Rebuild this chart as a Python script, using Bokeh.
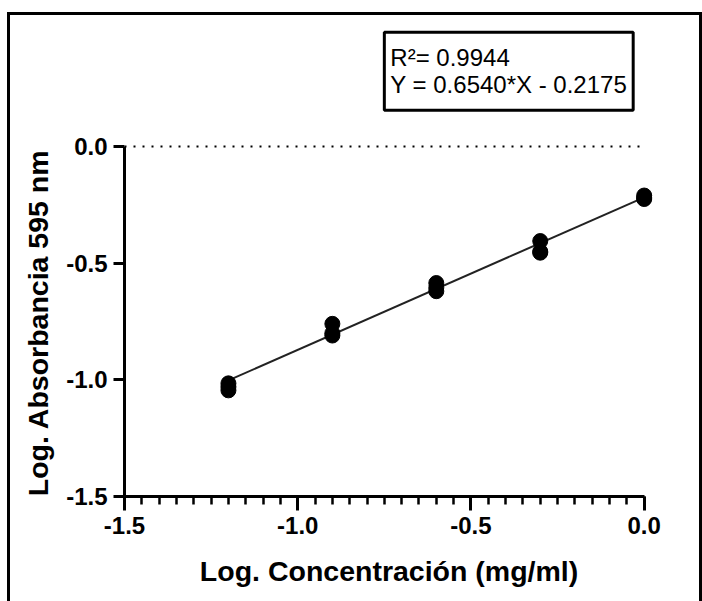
from bokeh.plotting import figure
from bokeh.models import Range1d, FixedTicker, Label
from bokeh.embed import file_html
from bokeh.resources import INLINE

# ---- data ----
x_levels = [-1.2, -0.9, -0.6, -0.3, 0.0]
rep1 = [-1.015, -0.760, -0.585, -0.405, -0.210]
rep2 = [-1.030, -0.800, -0.605, -0.450, -0.220]
rep3 = [-1.045, -0.810, -0.620, -0.455, -0.225]
fit_slope = 0.6540
fit_intercept = -0.2175
r_squared = 0.9944
x_ticks = [-1.5, -1.0, -0.5, 0.0]
x_tick_labels = ["-1.5", "-1.0", "-0.5", "0.0"]
y_ticks = [-1.5, -1.0, -0.5, 0.0]
y_tick_labels = ["-1.5", "-1.0", "-0.5", "0.0"]
x_title = "Log. Concentración (mg/ml)"
y_title = "Log. Absorbancia 595 nm"

FONT = "Liberation Sans"
NBSP = "\u00a0"

p = figure(width=702, height=601, output_backend="svg", toolbar_location=None,
           x_range=Range1d(-1.5, 0.05), y_range=Range1d(-1.5, 0.566),
           min_border_left=124, min_border_right=41,
           min_border_top=14, min_border_bottom=105)
p.grid.grid_line_color = None
p.outline_line_color = None
p.background_fill_color = "white"
p.border_fill_color = "white"
p.stylesheets = [
    ":host { position: relative; }",
    ":host::after { content: ''; position: absolute; left: 7px; top: 12px; "
    "width: 689px; height: 595px; border: 3px solid black; border-bottom: none; "
    "pointer-events: none; box-sizing: content-box; }",
]

# dotted reference line at y = 0
p.line([x_ticks[0], x_ticks[-1]], [0, 0], line_color="black", line_width=2,
       line_dash="2 7")

# regression line
fx = [x_levels[0], x_levels[-1]]
fy = [fit_slope * v + fit_intercept for v in fx]
p.line(fx, fy, line_color="#222222", line_width=2)

# points
for rep in (rep1, rep2, rep3):
    p.scatter(x_levels, rep, size=15, color="black")

# axes
minor = [x_ticks[0] + 0.05 * i for i in range(31)]
xa = p.xaxis[0]
xa.ticker = FixedTicker(ticks=x_ticks, minor_ticks=minor)
xa.major_label_overrides = {t: l for t, l in zip(x_ticks, x_tick_labels)}
xa.bounds = (x_ticks[0], x_ticks[-1])
xa.axis_line_width = 3
xa.major_tick_line_width = 3
xa.minor_tick_line_width = 2.5
xa.major_tick_in = 0
xa.major_tick_out = 14
xa.minor_tick_in = 0
xa.minor_tick_out = 8
xa.major_label_text_font = FONT
xa.major_label_text_font_style = "bold"
xa.major_label_text_font_size = "24px"
xa.major_label_text_color = "black"
xa.major_label_standoff = 6
# trailing no-break space nudges the centred title to the axis centre
xa.axis_label = x_title + NBSP
xa.axis_label_text_font = FONT
xa.axis_label_text_font_style = "bold"
xa.axis_label_text_font_size = "28.5px"
xa.axis_label_text_color = "black"
xa.axis_label_standoff = 18

ya = p.yaxis[0]
ya.ticker = FixedTicker(ticks=y_ticks)
ya.major_label_overrides = {t: l for t, l in zip(y_ticks, y_tick_labels)}
ya.bounds = (y_ticks[0], y_ticks[-1])
ya.axis_line_width = 3
ya.major_tick_line_width = 3
ya.minor_tick_line_color = None
ya.major_tick_in = 0
ya.major_tick_out = 11
ya.major_label_text_font = FONT
ya.major_label_text_font_style = "bold"
ya.major_label_text_font_size = "24px"
ya.major_label_text_color = "black"
ya.major_label_standoff = 6
# frame is taller than the axis; trailing no-break spaces centre the title on the axis
ya.axis_label = y_title + NBSP * 17
ya.axis_label_text_font = FONT
ya.axis_label_text_font_style = "bold"
ya.axis_label_text_font_size = "28.5px"
ya.axis_label_text_color = "black"
ya.axis_label_standoff = 9

# equation box
eq = Label(x=-0.75, y=0.49, anchor="top_left",
           text="R\u00b2= %.4f\nY = %.4f*X - %.4f" % (r_squared, fit_slope, -fit_intercept),
           text_font=FONT, text_font_size="24px", text_color="black",
           text_line_height=1.0,
           border_line_color="black", border_line_width=3,
           background_fill_color="white", padding=(6, 12))
p.add_layout(eq)

open("out.html", "w").write(file_html(p, INLINE))
